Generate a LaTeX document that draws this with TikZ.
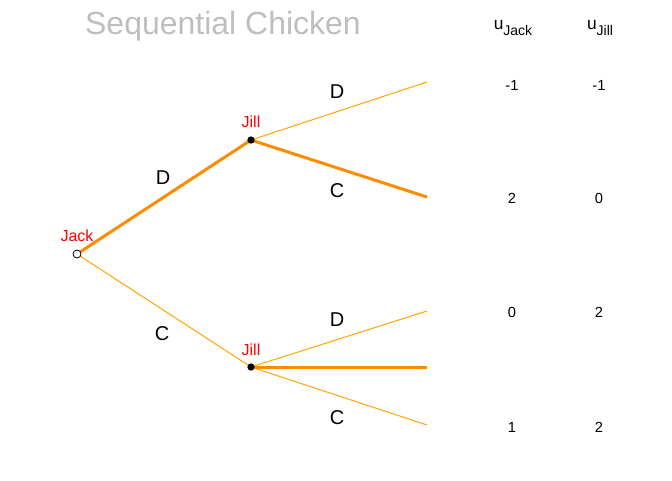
\documentclass[tikz,border=0pt]{standalone}
\usepackage{fontspec}
\setmainfont{Liberation Sans}
\newcommand{\paysub}[1]{\raisebox{-0.3em}{\fontsize{10.5}{12}\selectfont #1}}
\begin{document}
\begin{tikzpicture}[x=0.75pt,y=-0.75pt,
  thin branch/.style={draw={rgb,255:red,255;green,165;blue,0},line width=0.75pt},
  thick branch/.style={draw={rgb,255:red,255;green,140;blue,0},line width=2.25pt},
  player/.style={text=red,font=\fontsize{12}{14}\selectfont},
  act/.style={font=\fontsize{15}{18}\selectfont},
  pay/.style={font=\fontsize{11}{13}\selectfont},
  head/.style={font=\fontsize{13}{15}\selectfont,inner sep=0pt},
  dotfull/.style={circle,fill=black,inner sep=0pt,minimum size=5.5pt},
  dotopen/.style={circle,draw=black,fill=white,line width=0.6pt,inner sep=0pt,minimum size=6pt}]
\useasboundingbox (0,0) rectangle (672,480);
\node[font=\fontsize{24}{28}\selectfont,text={rgb,255:red,190;green,190;blue,190}] (title) at (223,26) {Sequential Chicken};
% nodes
\coordinate (r) at (77,254);
\coordinate (j1) at (251,140);
\coordinate (j2) at (251,367);
\coordinate (l1) at (427,82);
\coordinate (l2) at (427,197);
\coordinate (l3) at (427,311);
\coordinate (l4) at (427,367);
\coordinate (l5) at (427,425);
% branches
\draw[thin branch] (r) -- (j2);
\draw[thin branch] (j1) -- (l1);
\draw[thin branch] (j2) -- (l3);
\draw[thin branch] (j2) -- (l5);
\draw[thick branch] (r) -- (j1);
\draw[thick branch] (j1) -- (l2);
\draw[thick branch] (j2) -- (l4);
\node[dotopen] (root) at (r) {};
\node[dotfull] (jill1) at (j1) {};
\node[dotfull] (jill2) at (j2) {};
% player labels
\node[player] (ljack) at (77,236) {Jack};
\node[player] (ljill1) at (251,122) {Jill};
\node[player] (ljill2) at (251,350) {Jill};
% action labels
\node[act] (a1) at (163,178) {D};
\node[act] (a2) at (162,334) {C};
\node[act] (a3) at (337,92) {D};
\node[act] (a4) at (337,191) {C};
\node[act] (a5) at (337,320) {D};
\node[act] (a6) at (337,418) {C};
% payoff headers
\node[head] (hj) at (513,28) {u\paysub{Jack}};
\node[head] (hl) at (600,28) {u\paysub{Jill}};
% payoffs
\node[pay] (p11) at (512,85) {-1};
\node[pay] (p12) at (599,85) {-1};
\node[pay] (p21) at (512,198) {2};
\node[pay] (p22) at (599,198) {0};
\node[pay] (p31) at (512,312) {0};
\node[pay] (p32) at (599,312) {2};
\node[pay] (p41) at (512,427) {1};
\node[pay] (p42) at (599,427) {2};
\end{tikzpicture}
\end{document}
